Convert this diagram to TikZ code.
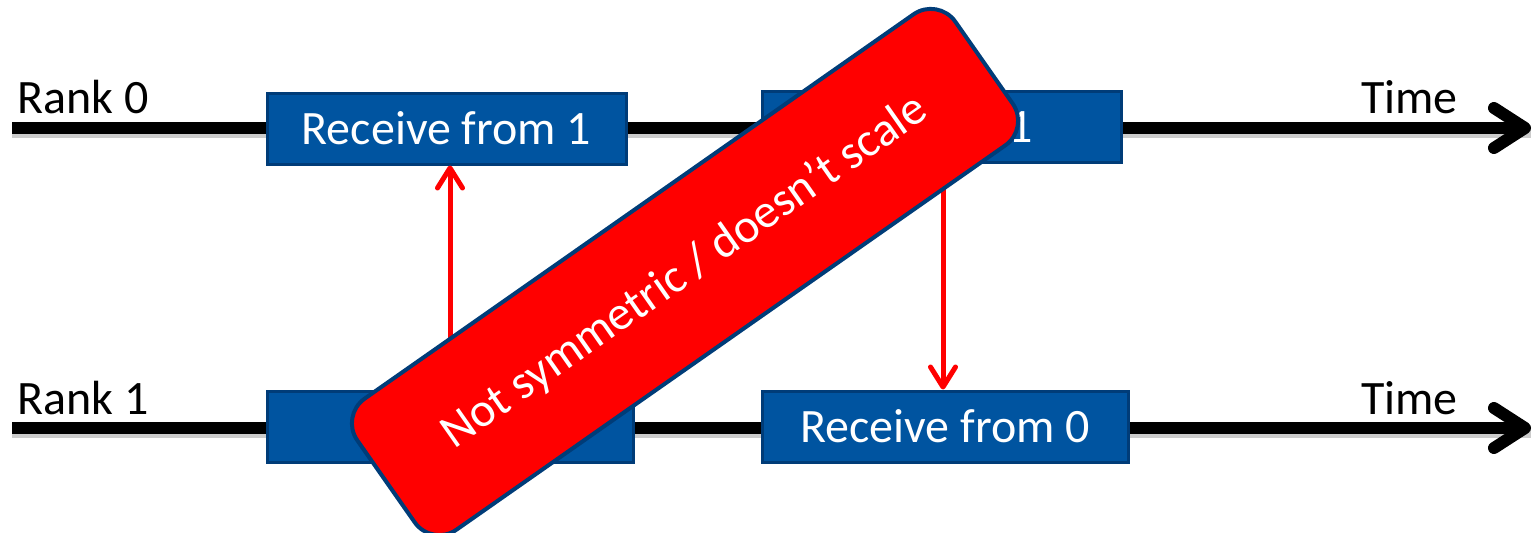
\documentclass[tikz,border=0pt]{standalone}
\usepackage{fontspec}
\setmainfont{Carlito}
\usetikzlibrary{arrows.meta, positioning, calc}

\definecolor{boxblue}{RGB}{0,84,160}
\definecolor{boxedge}{RGB}{0,60,120}
\definecolor{bannerred}{RGB}{255,0,0}

\tikzset{
    timeline/.style={line width=0.24cm, -{Straight Barb[length=0.62cm, width=0.8cm, line cap=round, line join=round]},
        preaction={draw=black!20, line width=0.24cm, transform canvas={yshift=-0.07cm}, -}},
    opbox/.style={draw=boxedge, line width=0.06cm, fill=boxblue, text=white, minimum height=1.42cm, inner sep=0pt},
    msg/.style={draw=bannerred, line width=0.1cm, -{Straight Barb[length=0.4cm, width=0.5cm, line cap=round, line join=round]}},
}

\begin{document}
\begin{tikzpicture}[every node/.style={font=\fontsize{27.3}{32}\selectfont}]
    \useasboundingbox (0, 0) rectangle (30.7, 10.64);

    % the two ranks and their time axes
    \node (rank0) at (0.34, 8.7) [anchor=west, inner sep=0pt] {Rank 0};
    \node (time0) at (28.19, 8.7) [inner sep=0pt] {Time};
    \node (rank1) at (0.34, 2.68) [anchor=west, inner sep=0pt] {Rank 1};
    \node (time1) at (28.19, 2.68) [inner sep=0pt] {Time};

    \coordinate (start0) at (0.24, 8.08);
    \coordinate (end0) at (30.62, 8.08);
    \coordinate (start1) at (0.24, 2.08);
    \coordinate (end1) at (30.62, 2.08);
    \draw[timeline] (start0) -- (end0);
    \draw[timeline] (start1) -- (end1);

    % operations on each rank
    \node (recvA) at (8.93, 8.07) [opbox, minimum width=7.18cm] {Receive from 1};
    \node (sendA) at (18.83, 8.11) [opbox, minimum width=7.18cm] {Send to 1};
    \node (sendB) at (9.0, 2.11) [opbox, minimum width=7.32cm] {Send to 0};
    \node (recvB) at (18.9, 2.11) [opbox, minimum width=7.32cm] {Receive from 0};

    % messages
    \draw[msg] (sendB.north) -- (sendB.north |- recvA.south);
    \draw[msg] ([xshift=0.03cm]sendA.south) -- ([xshift=0.03cm]sendA.south |- recvB.north);

    % stamp across the exchange
    \node (stamp) at (13.7, 5.2) [rotate=35, draw=boxedge, line width=0.08cm, fill=bannerred, text=white,
        rounded corners=0.6cm, minimum width=14.6cm, minimum height=3.2cm] {Not symmetric / doesn’t scale};
\end{tikzpicture}
\end{document}
